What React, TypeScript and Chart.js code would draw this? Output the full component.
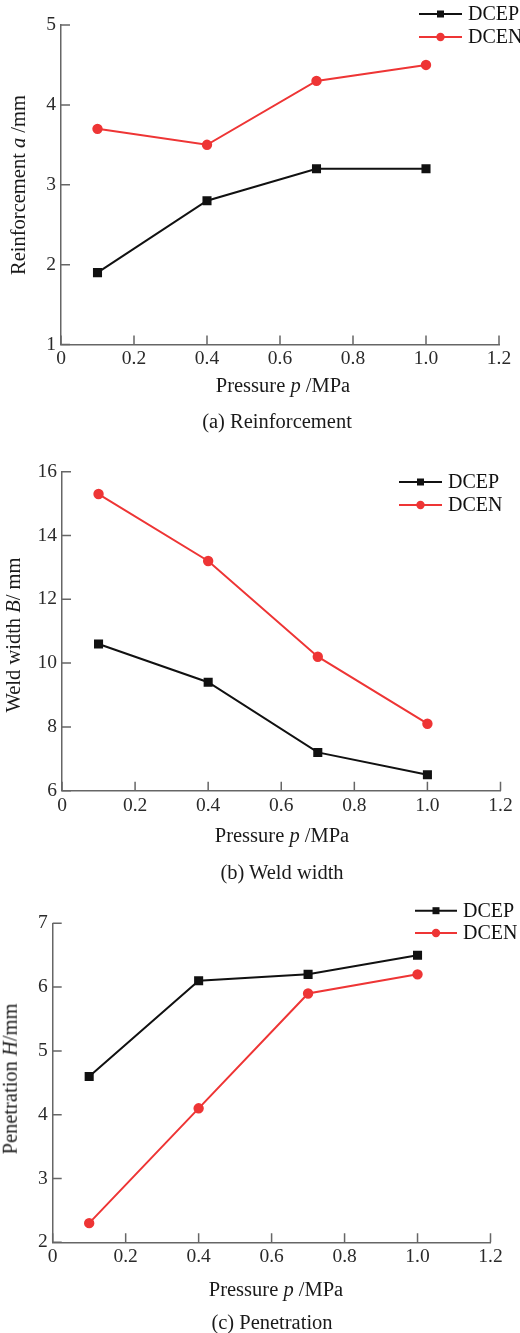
import React, { useEffect, useRef } from "react";
import { Chart, registerables } from "chart.js";

Chart.register(...registerables);

// ---------- data ----------
const pressure = [0.1, 0.4, 0.7, 1.0];
const xTicks = [0, 0.2, 0.4, 0.6, 0.8, 1.0, 1.2];

const reinforcementDCEP = [1.9, 2.8, 3.2, 3.2];
const reinforcementDCEN = [3.7, 3.5, 4.3, 4.5];

const widthDCEP = [10.6, 9.4, 7.2, 6.5];
const widthDCEN = [15.3, 13.2, 10.2, 8.1];

const penetrationDCEP = [4.6, 6.1, 6.2, 6.5];
const penetrationDCEN = [2.3, 4.1, 5.9, 6.2];

const seriesNames = ["DCEP", "DCEN"];

const FONT = "'Liberation Serif', 'Times New Roman', serif";
const BLACK = "#111111";
const RED = "#ee3535";
const AXIS = "#666666";

type PanelCfg = {
  top: number;
  height: number;
  area: { left: number; right: number; top: number; bottom: number };
  yMin: number;
  yMax: number;
  yStep: number;
  dcep: number[];
  dcen: number[];
  legend: { x1: number; x2: number; y1: number; y2: number; tx: number };
};

const panels: PanelCfg[] = [
  {
    top: 0,
    height: 440,
    area: { left: 61, right: 499, top: 25, bottom: 344.5 },
    yMin: 1,
    yMax: 5,
    yStep: 1,
    dcep: reinforcementDCEP,
    dcen: reinforcementDCEN,
    legend: { x1: 419, x2: 462, y1: 14, y2: 37, tx: 468 },
  },
  {
    top: 440,
    height: 440,
    area: { left: 62, right: 500.5, top: 31.7, bottom: 350.7 },
    yMin: 6,
    yMax: 16,
    yStep: 2,
    dcep: widthDCEP,
    dcen: widthDCEN,
    legend: { x1: 399, x2: 442, y1: 42, y2: 65, tx: 448 },
  },
  {
    top: 880,
    height: 453,
    area: { left: 52.7, right: 490.5, top: 43.3, bottom: 362.3 },
    yMin: 2,
    yMax: 7,
    yStep: 1,
    dcep: penetrationDCEP,
    dcen: penetrationDCEN,
    legend: { x1: 415, x2: 457, y1: 30.7, y2: 53, tx: 463 },
  },
];

const inwardTicks = {
  id: "inwardTicks",
  afterDraw(chart: any) {
    const ctx = chart.ctx;
    const { left, bottom } = chart.chartArea;
    ctx.save();
    ctx.strokeStyle = AXIS;
    ctx.lineWidth = 1.5;
    const xs = chart.scales.x;
    const ys = chart.scales.y;
    ctx.beginPath();
    xs.ticks.forEach((t: any) => {
      const px = xs.getPixelForValue(t.value);
      ctx.moveTo(px, bottom);
      ctx.lineTo(px, bottom - 9);
    });
    ys.ticks.forEach((t: any) => {
      const py = ys.getPixelForValue(t.value);
      ctx.moveTo(left, py);
      ctx.lineTo(left + 9, py);
    });
    ctx.stroke();
    ctx.restore();
  },
};

const customLegend = {
  id: "customLegend",
  afterDraw(chart: any, _args: any, opts: any) {
    const ctx = chart.ctx;
    const { x1, x2, y1, y2, tx } = opts.pos;
    ctx.save();
    chart.data.datasets.forEach((ds: any, i: number) => {
      const y = i === 0 ? y1 : y2;
      ctx.strokeStyle = ds.borderColor;
      ctx.lineWidth = 2;
      ctx.beginPath();
      ctx.moveTo(x1, y);
      ctx.lineTo(x2, y);
      ctx.stroke();
      const cx = (x1 + x2) / 2;
      ctx.fillStyle = ds.pointBackgroundColor;
      if (ds.pointStyle === "rect") {
        ctx.fillRect(cx - 3.5, y - 3.5, 7, 7);
      } else {
        ctx.beginPath();
        ctx.arc(cx, y, 4.2, 0, Math.PI * 2);
        ctx.fill();
      }
      ctx.fillStyle = "#111";
      ctx.font = `20px ${FONT}`;
      ctx.textBaseline = "middle";
      ctx.textAlign = "left";
      ctx.fillText(ds.label, tx, y + 1);
    });
    ctx.restore();
  },
};

function Panel({ cfg }: { cfg: PanelCfg }) {
  const ref = useRef<HTMLCanvasElement>(null);
  useEffect(() => {
    if (!ref.current) return;
    const a = cfg.area;
    const chart = new Chart(ref.current, {
      type: "line",
      data: {
        datasets: [
          {
            label: seriesNames[0],
            data: pressure.map((p, i) => ({ x: p, y: cfg.dcep[i] })),
            borderColor: BLACK,
            backgroundColor: BLACK,
            pointBackgroundColor: BLACK,
            pointBorderColor: BLACK,
            pointStyle: "rect",
            pointRadius: 5,
            borderWidth: 2,
            tension: 0,
          },
          {
            label: seriesNames[1],
            data: pressure.map((p, i) => ({ x: p, y: cfg.dcen[i] })),
            borderColor: RED,
            backgroundColor: RED,
            pointBackgroundColor: RED,
            pointBorderColor: RED,
            pointStyle: "circle",
            pointRadius: 4.2,
            borderWidth: 2,
            tension: 0,
          },
        ],
      },
      options: {
        animation: false,
        responsive: false,
        maintainAspectRatio: false,
        devicePixelRatio: 1,
        layout: {
          padding: { left: 0, top: a.top, right: 520 - a.right, bottom: 0 },
        },
        plugins: {
          legend: { display: false },
          tooltip: { enabled: false },
          customLegend: { pos: cfg.legend },
        } as any,
        scales: {
          x: {
            type: "linear",
            min: 0,
            max: 1.2,
            afterBuildTicks: (s: any) => {
              s.ticks = xTicks.map((v) => ({ value: v }));
            },
            afterFit: (s: any) => {
              s.height = cfg.height - a.bottom;
            },
            grid: { display: false, drawTicks: false },
            border: { display: true, color: AXIS, width: 1.5 },
            ticks: {
              padding: 3,
              color: "#2a2a2a",
              font: { family: FONT, size: 19.5 },
              maxRotation: 0,
              callback: (v: any) => (v === 0 ? "0" : Number(v).toFixed(1)),
            },
          },
          y: {
            type: "linear",
            min: cfg.yMin,
            max: cfg.yMax,
            afterFit: (s: any) => {
              s.width = a.left;
            },
            grid: { display: false, drawTicks: false },
            border: { display: true, color: AXIS, width: 1.5 },
            ticks: {
              stepSize: cfg.yStep,
              padding: 5,
              color: "#2a2a2a",
              font: { family: FONT, size: 19.5 },
            },
          },
        },
      },
      plugins: [inwardTicks, customLegend],
    });
    return () => chart.destroy();
  }, [cfg]);
  return (
    <canvas
      ref={ref}
      width={520}
      height={cfg.height}
      style={{ position: "absolute", left: 0, top: cfg.top, width: 520, height: cfg.height }}
    />
  );
}

const textStyle: React.CSSProperties = {
  position: "absolute",
  fontFamily: FONT,
  fontSize: 20.5,
  lineHeight: 1,
  color: "#1a1a1a",
  whiteSpace: "nowrap",
  transform: "translate(-50%, -50%)",
};

function Label({ x, y, rotate, children }: { x: number; y: number; rotate?: boolean; children: React.ReactNode }) {
  return (
    <div
      style={{
        ...textStyle,
        left: x,
        top: y,
        transform: rotate ? "translate(-50%, -50%) rotate(-90deg)" : textStyle.transform,
      }}
    >
      {children}
    </div>
  );
}

export default function App() {
  return (
    <div style={{ position: "absolute", left: 0, top: 0, width: 520, height: 1333, background: "#fff", overflow: "hidden" }}>
      {panels.map((p, i) => (
        <Panel key={i} cfg={p} />
      ))}
      <Label x={18} y={185} rotate>
        Reinforcement <i>a</i> /mm
      </Label>
      <Label x={283} y={385}>
        Pressure <i>p</i> /MPa
      </Label>
      <Label x={277} y={421}>(a) Reinforcement</Label>

      <Label x={13} y={635} rotate>
        Weld width <i>B</i>/ mm
      </Label>
      <Label x={282} y={835}>
        Pressure <i>p</i> /MPa
      </Label>
      <Label x={282} y={872}>(b) Weld width</Label>

      <Label x={10} y={1079} rotate>
        Penetration <i>H</i>/mm
      </Label>
      <Label x={276} y={1289}>
        Pressure <i>p</i> /MPa
      </Label>
      <Label x={272} y={1322}>(c) Penetration</Label>
    </div>
  );
}
